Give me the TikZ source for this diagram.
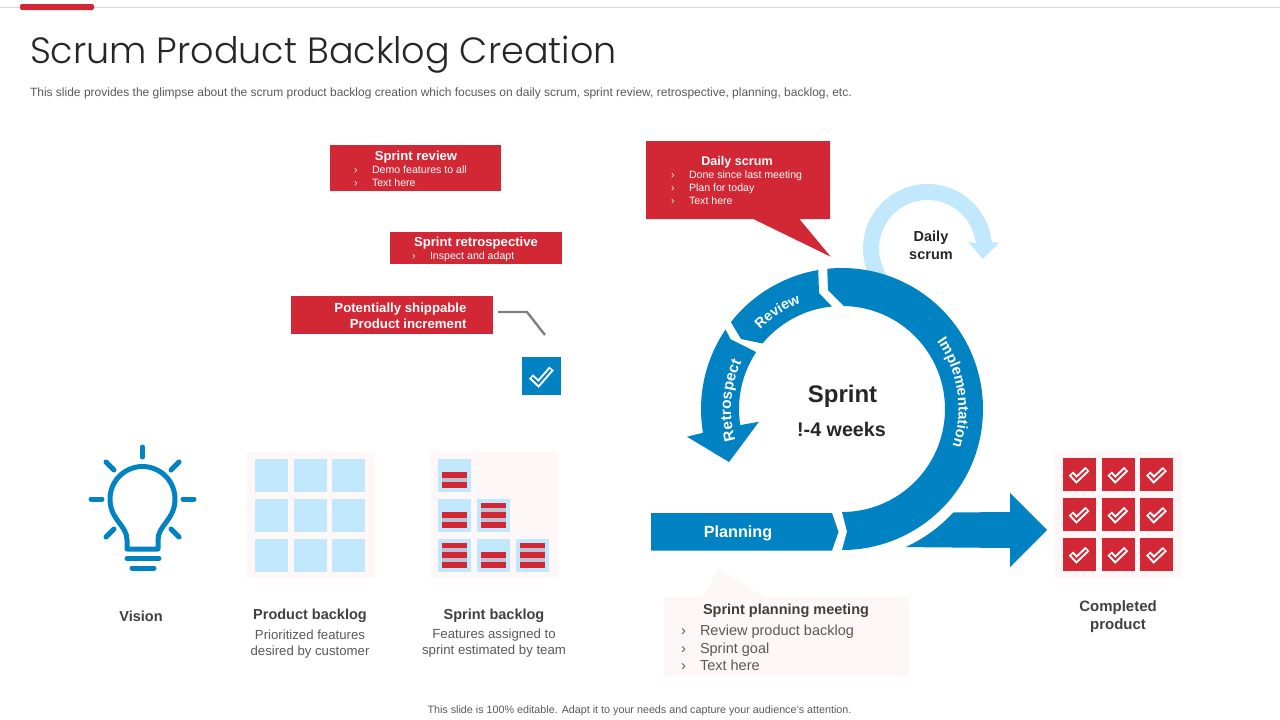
\documentclass[tikz,border=0pt]{standalone}
\usepackage{fontspec}
\setmainfont{Liberation Sans}
\newfontfamily\titlefont{Poppins Light}
\usepackage{xcolor}
\definecolor{scrum_blue}{RGB}{0, 130, 195}
\definecolor{scrum_red}{RGB}{210, 39, 53}
\definecolor{scrum_sky}{RGB}{193, 232, 252}
\definecolor{scrum_pale}{RGB}{254, 247, 247}
\definecolor{scrum_band}{RGB}{190, 195, 212}
\definecolor{scrum_ink}{RGB}{38, 38, 38}
\definecolor{scrum_dark}{RGB}{64, 64, 64}
\definecolor{scrum_grey}{RGB}{89, 89, 89}
\usetikzlibrary{arrows.meta, positioning, calc, decorations.text}
\newcommand{\chv}{\makebox[18pt][l]{›}}

\begin{document}
\begin{tikzpicture}[x=1pt, y=-1pt,
        every node/.style={inner sep=0pt, outer sep=0pt},
        redbox/.style={fill=scrum_red},
        panel/.style={fill=scrum_pale, minimum width=128pt, minimum height=126pt},
        skysq/.style={fill=scrum_sky, minimum size=33pt},
        redsq/.style={fill=scrum_red, minimum size=33pt},
        head/.style={text=white, font=\fontsize{13.1}{15}\selectfont\bfseries},
        items/.style={text=white, anchor=north west, align=left, font=\fontsize{10.6}{13}\selectfont},
        captxt/.style={text=scrum_dark, align=center, font=\fontsize{14.5}{18}\selectfont\bfseries},
        note/.style={text=scrum_grey, align=center, font=\fontsize{13.2}{16}\selectfont},
        bulb/.style={draw=scrum_blue, line width=5pt, line cap=round, line join=round},
        leader/.style={draw=gray, line width=2.4pt},
        tickout/.style={white, line width=6pt},
        tickin/.style={line width=1.9pt, shorten <=1.6pt, shorten >=1.6pt},
      ]
        \useasboundingbox (0,0) rectangle (1280,720);

        % header
        \draw[black!15] (0,7.5) -- (1280,7.5);
        \fill[scrum_red, rounded corners=2pt] (20,4) rectangle (94,10);
        \node[anchor=west, text=scrum_ink, font=\fontsize{36.5}{40}\selectfont\titlefont] (title) at (30,55) {Scrum Product Backlog Creation};
        \node[anchor=west, text=scrum_grey, font=\fontsize{12}{14}\selectfont] (sub) at (30,93.5) {This slide provides the glimpse about the scrum product backlog creation which focuses on daily scrum, sprint review, retrospective, planning, backlog, etc.};
        \node[text=scrum_grey, font=\fontsize{10.75}{12}\selectfont] (foot) at (639.5,711) {This slide is 100\% editable.  Adapt it to your needs and capture your audience's attention.};

        % red boxes
        \node[redbox, minimum width=171pt, minimum height=46pt] (review) at (415.5,168) {};
        \node[head] (reviewt) at (416,157) {Sprint review};
        \node[items] (reviewl) at (354,166) {\chv Demo  features to all\\\chv Text here};

        \node[redbox, minimum width=172pt, minimum height=32pt] (retro) at (476,248) {};
        \node[head] (retrot) at (476,243) {Sprint retrospective};
        \node[items] (retrol) at (412,252) {\chv Inspect and adapt};

        \node[redbox, minimum width=202pt, minimum height=38pt] (ship) at (392,315) {};
        \node[head, anchor=east, align=right, font=\fontsize{13.2}{16}\selectfont\bfseries] (shipt) at (466.5,316) {Potentially shippable \\ Product increment};
        \coordinate (shipa) at (498,312);
        \coordinate (shipb) at (527,312);
        \coordinate (shipc) at (545,335);
        \draw[leader] (shipa) -- (shipb) -- (shipc);

        \node[fill=scrum_blue, minimum width=39pt, minimum height=38pt] (done) at (541.5,376) {};
        \draw[tickout] (531,376.5) -- (538.5,383.5) -- (551.5,368.5);
        \draw[tickin, scrum_blue] (531,376.5) -- (538.5,383.5) -- (551.5,368.5);

        % speech bubble
        \fill[scrum_red] (646,141) -- (830,141) -- (830,219) -- (799.3,219) -- (830.7,256.7) -- (753.3,219) -- (646,219) -- cycle;
        \node[head, font=\fontsize{12.6}{15}\selectfont\bfseries] (dailyt) at (737,162) {Daily scrum};
        \node[items] (dailyl) at (671,171) {\chv Done  since last meeting\\\chv Plan  for today\\\chv Text here};

        % daily loop
        \fill[scrum_sky] ($(927.5,248.5)+(203:64.5pt)$) arc (203:6:64.5pt) -- (999,243) -- (982.7,259) -- (968,241.7) -- ($(927.5,248.5)+(6:48.5pt)$) arc (6:214:48.5pt) -- cycle;
        \node[text=scrum_ink, align=center, font=\fontsize{14.5}{18}\selectfont\bfseries] (dailyc) at (931,245) {Daily\\scrum};

        % sprint ring
        \fill[scrum_blue] ($(842,409)+(89:103pt)$) arc (89:-90:103pt) -- (847,531.5) -- ($(842,409)+(-90:141pt)$) arc (-90:96:141pt) -- (828,290) -- cycle;
        \fill[scrum_blue] ($(842,409)+(99.7:141pt)$) -- (819,293) -- ($(842,409)+(95.6:103pt)$) arc (95.6:140.5:103pt) -- (741,339) -- ($(842,409)+(142:141pt)$) arc (142:99.7:141pt) -- cycle;
        \fill[scrum_blue] ($(842,409)+(145.7:141pt)$) -- (730.7,339.3) -- ($(842,409)+(146.4:103pt)$) arc (146.4:189:103pt) -- (759,421.7) -- (729,462) -- (687,436.7) -- ($(842,409)+(189.7:141pt)$) arc (189.7:145.7:141pt) -- cycle;
        \fill[scrum_blue] (651,513) -- (832,513) -- (838.5,532) -- (832,550.5) -- (651,550.5) -- cycle;
        \fill[scrum_blue] ($(842,409)+(-65.3:152pt)$) arc (-65.3:-42.9:152pt) -- (1010,512) -- (1010,493) -- (1047,530) -- (1010,567) -- (1010,548) -- cycle;

        \path[decorate, decoration={text along path, text align=center, text={|\fontsize{14.8}{16}\selectfont\bfseries\color{white}|Implementation}}] ($(842,409)+(60:116.5pt)$) arc (60:-43:116.5pt);
        \path[decorate, decoration={text along path, text align=center, text={|\fontsize{14.2}{16}\selectfont\bfseries\color{white}|Review}}] ($(842,409)+(160:114pt)$) arc (160:87:114pt);
        \path[decorate, decoration={text along path, text align=center, text={|\fontsize{15.4}{16}\selectfont\bfseries\color{white}|Retrospect}}] ($(842,409)+(220:111pt)$) arc (220:131:111pt);

        \node[text=white, font=\fontsize{16.2}{18}\selectfont\bfseries] (plan) at (738,533) {Planning};
        \node[text=scrum_ink, font=\fontsize{24}{28}\selectfont\bfseries] (sprint) at (842.5,396) {Sprint};
        \node[text=scrum_ink, font=\fontsize{19.7}{24}\selectfont\bfseries] (weeks) at (841.5,429) {!-4 weeks};

        % planning meeting
        \fill[scrum_pale] (703,598) -- (718,569) -- (767,598) -- cycle;
        \node[fill=scrum_pale, minimum width=245pt, minimum height=79pt] (meet) at (786.5,636.5) {};
        \node[text=scrum_dark, font=\fontsize{14.5}{17}\selectfont\bfseries] (meett) at (786,611) {Sprint planning meeting};
        \node[anchor=north west, align=left, text=scrum_grey, font=\fontsize{14.5}{17.5}\selectfont] (meetl) at (681,625) {\makebox[19pt][l]{›}Review product backlog\\\makebox[19pt][l]{›}Sprint goal\\\makebox[19pt][l]{›}Text here};

        % vision
        \draw[bulb] (158,549) -- (158,540) .. controls (158,525) and (175,520) .. (175,499) arc (0:180:32.5pt) .. controls (110,520) and (127,525) .. (127,540) -- (127,549) -- cycle;
        \draw[bulb] (127,558.5) -- (159,558.5);
        \draw[bulb] (132,568) -- (154,568);
        \draw[bulb] (142.5,447) -- (142.5,457);
        \draw[bulb] (91,499) -- (102,499);
        \draw[bulb] (183,499) -- (194,499);
        \draw[bulb] (106,462) -- (114,470);
        \draw[bulb] (179,462) -- (171,470);
        \draw[bulb] (106,537) -- (114,529);
        \draw[bulb] (179,537) -- (171,529);
        \node[captxt] (vision) at (141,616) {Vision};

        % product backlog
        \node[panel] (prod) at (310.5,514.5) {};
        \foreach \x in {271.5,310,348.5}
          \foreach \y in {475,515,555}
            \node[skysq] at (\x,\y) {};
        \node[captxt] (prodt) at (310,616) {Product backlog};
        \node[note] (prodn) at (310,644.5) {Prioritized features\\desired by customer};

        % sprint backlog
        \node[panel] (back) at (493.5,514.5) {};
        \foreach \x/\y in {454.5/475,454.5/515,493.5/515,454.5/555,493.5/555,532.5/555}
          \node[skysq] at (\x,\y) {};
        \foreach \x/\y in {442/458,442/498,481/498,442/538,481/538,520/538} {
          \fill[scrum_band] (\x,\y+14) rectangle +(25,15.5);
          \fill[scrum_red] (\x,\y+14) rectangle +(25,5.5);
          \fill[scrum_red] (\x,\y+24) rectangle +(25,5.5);
        }
        \foreach \x/\y in {481/498,442/538,520/538} {
          \fill[scrum_band] (\x,\y+4.5) rectangle +(25,9.5);
          \fill[scrum_red] (\x,\y+4.5) rectangle +(25,5.5);
        }
        \node[captxt] (backt) at (494,616) {Sprint backlog};
        \node[note] (backn) at (494,643.5) {Features assigned to\\sprint estimated by team};

        % completed product
        \node[panel] (comp) at (1117.5,514.5) {};
        \foreach \x in {1063,1101.7,1140.3}
          \foreach \y in {458,498,538} {
            \node[redsq, anchor=north west] at (\x,\y) {};
            \draw[tickout] (\x+8,\y+15.5) -- (\x+13.5,\y+21.5) -- (\x+24.5,\y+11);
            \draw[tickin, scrum_red] (\x+8,\y+15.5) -- (\x+13.5,\y+21.5) -- (\x+24.5,\y+11);
          }
        \node[captxt, font=\fontsize{15}{18}\selectfont\bfseries] (compt) at (1118,617) {Completed\\product};
      \end{tikzpicture}
\end{document}
